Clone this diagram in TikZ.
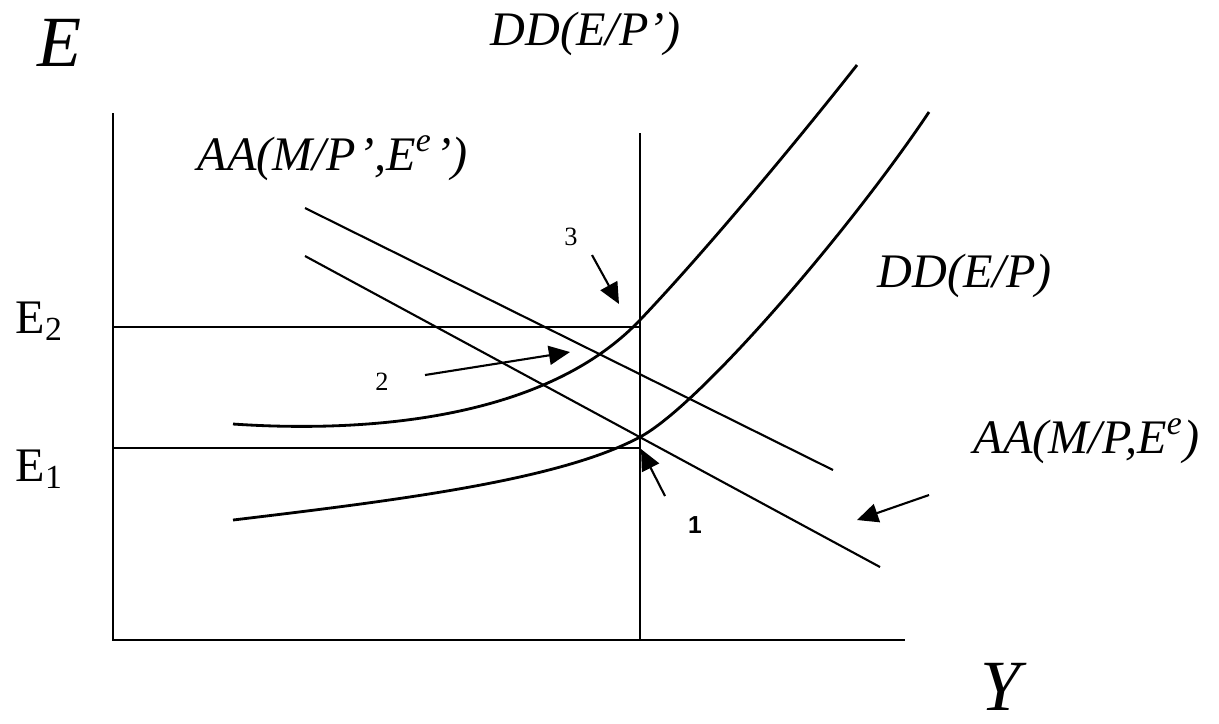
\documentclass[tikz,border=0pt]{standalone}
\usepackage{fontspec}
\setmainfont{Liberation Serif}
\newfontfamily\arialfont{Liberation Sans}
\usetikzlibrary{arrows.meta}

\begin{document}
\begin{tikzpicture}[x=0.01cm, y=-0.01cm]

  % Styles for axes, curves, labels and pointers
  \tikzset{
    axis/.style={line width=0.6pt},
    curve/.style={line width=0.8pt},
    lbl/.style={inner sep=0pt, font=\fontsize{13.7}{16}\selectfont\itshape},
    biglbl/.style={inner sep=0pt, font=\fontsize{20.5}{24}\selectfont\itshape},
    numlbl/.style={inner sep=0pt, font=\fontsize{7.5}{9}\selectfont},
    pointer/.style={line width=0.6pt, -{Triangle[length=6pt, width=5.4pt]}}
  }

  \useasboundingbox (0,0) rectangle (1219,723);

  % 1. Axes and reference lines
  \coordinate (O) at (113,640);
  \coordinate (Etop) at (113,113);
  \coordinate (Yend) at (905,640);
  \coordinate (Vtop) at (640,133);
  \coordinate (Vbot) at (640,640);
  \coordinate (E2a) at (113,327);
  \coordinate (E2b) at (640,327);
  \coordinate (E1a) at (113,448);
  \coordinate (E1b) at (640,448);

  \draw[axis] (Etop) -- (O) -- (Yend);
  \draw[axis] (Vtop) -- (Vbot);
  \draw[axis] (E2a) -- (E2b);
  \draw[axis] (E1a) -- (E1b);

  % 2. AA schedules
  \coordinate (AAup1) at (305,208);
  \coordinate (AAup2) at (833,470);
  \coordinate (AAlo1) at (305,256);
  \coordinate (AAlo2) at (880,567);

  \draw[axis] (AAup1) -- (AAup2);
  \draw[axis] (AAlo1) -- (AAlo2);

  % 3. DD schedules
  \coordinate (DDup0) at (233,424);
  \coordinate (DDup1) at (640,320);
  \coordinate (DDup2) at (857,65);
  \coordinate (DDlo0) at (233,520);
  \coordinate (DDlo1) at (640,437);
  \coordinate (DDlo2) at (929,112);

  \draw[curve] (DDup0) .. controls (350,432) and (540,425) .. (DDup1)
                       .. controls (700,257) and (790,150) .. (DDup2);
  \draw[curve] (DDlo0) .. controls (400,500) and (560,480) .. (DDlo1)
                       .. controls (700,405) and (850,230) .. (DDlo2);

  % --- LABELS ---
  \node[biglbl, anchor=base] (Elbl) at (60,66) {E};
  \node[biglbl, anchor=base] (Ylbl) at (1001,710) {Y};
  \node[lbl, anchor=base west] (DDtop) at (490,45) {DD(E/P’)};
  \node[lbl, anchor=base west] (AAtop) at (197,170) {AA(M/P\kern0.8pt’,E\textsuperscript{e}\kern0.8pt’)};
  \node[lbl, anchor=base west] (DDbot) at (877,287) {DD(E/P)};
  \node[lbl, anchor=base west] (AAbot) at (973,453) {AA(M/P,E\textsuperscript{e})};
  \node[lbl, font=\fontsize{13.7}{16}\selectfont, anchor=base west] (E2lbl) at (15,333) {E\textsubscript{2}};
  \node[lbl, font=\fontsize{13.7}{16}\selectfont, anchor=base west] (E1lbl) at (15,481) {E\textsubscript{1}};

  \node[numlbl, anchor=base] (n3) at (571,245) {3};
  \node[numlbl, anchor=base] (n2) at (382,390) {2};
  \node[numlbl, font=\fontsize{7}{9}\selectfont\arialfont\bfseries, anchor=base] (n1) at (695,533) {1};

  % --- POINTERS ---
  \coordinate (p3a) at (592,255);
  \coordinate (p3b) at (619,304);
  \coordinate (p2a) at (425,375);
  \coordinate (p2b) at (570,352);
  \coordinate (p1a) at (665,496);
  \coordinate (p1b) at (641,449);
  \coordinate (pAa) at (929,495);
  \coordinate (pAb) at (857,520);

  \draw[pointer] (p3a) -- (p3b);
  \draw[pointer] (p2a) -- (p2b);
  \draw[pointer] (p1a) -- (p1b);
  \draw[pointer] (pAa) -- (pAb);

\end{tikzpicture}
\end{document}
